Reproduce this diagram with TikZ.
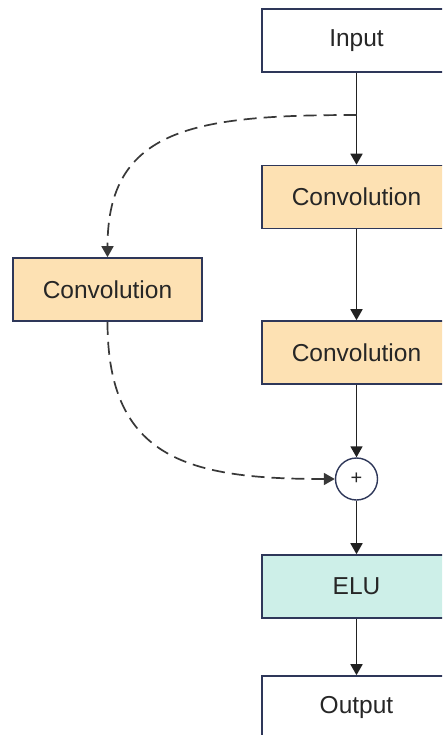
\documentclass[tikz,border=0pt]{standalone}
\usepackage{fontspec}
\setmainfont{Liberation Sans}
\usetikzlibrary{arrows.meta}
\definecolor{boxline}{HTML}{2E3759}
\definecolor{convfill}{HTML}{FDE1B3}
\definecolor{elufill}{HTML}{CDEFE8}
\definecolor{ink}{HTML}{222222}
\definecolor{dashink}{HTML}{383838}
\definecolor{txt}{HTML}{262626}
\begin{document}
\begin{tikzpicture}[x=1pt,y=-1pt,
  block/.style={draw=boxline, line width=1.6pt, minimum width=189pt, minimum height=63pt,
    inner sep=0pt, text=txt, font=\fontsize{24.5}{29}\selectfont},
  plainbox/.style={block, fill=white},
  convbox/.style={block, fill=convfill},
  actbox/.style={block, fill=elufill},
  sumnode/.style={circle, draw=boxline, line width=1.4pt, fill=white, minimum size=42pt,
    inner sep=0pt, text=txt, font=\fontsize{20}{24}\selectfont},
  flow/.style={draw=ink, line width=1.7pt, -{Triangle[length=11pt,width=12pt]}},
  skip/.style={flow, draw=dashink, dash pattern=on 13pt off 7pt}]
\useasboundingbox (0,0) rectangle (442,735);
\clip (0,0) rectangle (442,735);
\fill[white] (0,0) rectangle (442,735);

% main path
\node[plainbox] (input) at (356.5,40.5) {Input};
\node[convbox]  (conv1) at (356.5,197) {Convolution};
\node[convbox]  (conv2) at (356.5,352.5) {Convolution};
\node[sumnode]  (sum)   at (356.5,479) {+};
\node[actbox]   (elu)   at (356.5,586.5) {ELU};
\node[plainbox] (output) at (356.5,707.5) {Output};

% shortcut branch
\node[convbox]  (conv3) at (107.5,289.5) {Convolution};
\coordinate (split) at (356.5,115);

\draw[flow] (input) -- (conv1);
\draw[flow] (conv1) -- (conv2);
\draw[flow] (conv2) -- (sum);
\draw[flow] (sum) -- (elu);
\draw[flow] (elu) -- (output);

\draw[skip] (split) .. controls (195,115) and (107.5,128) .. (conv3.north);
\draw[skip] (conv3.south) .. controls (107.5,460) and (190,479) .. (sum.west);
\end{tikzpicture}
\end{document}
